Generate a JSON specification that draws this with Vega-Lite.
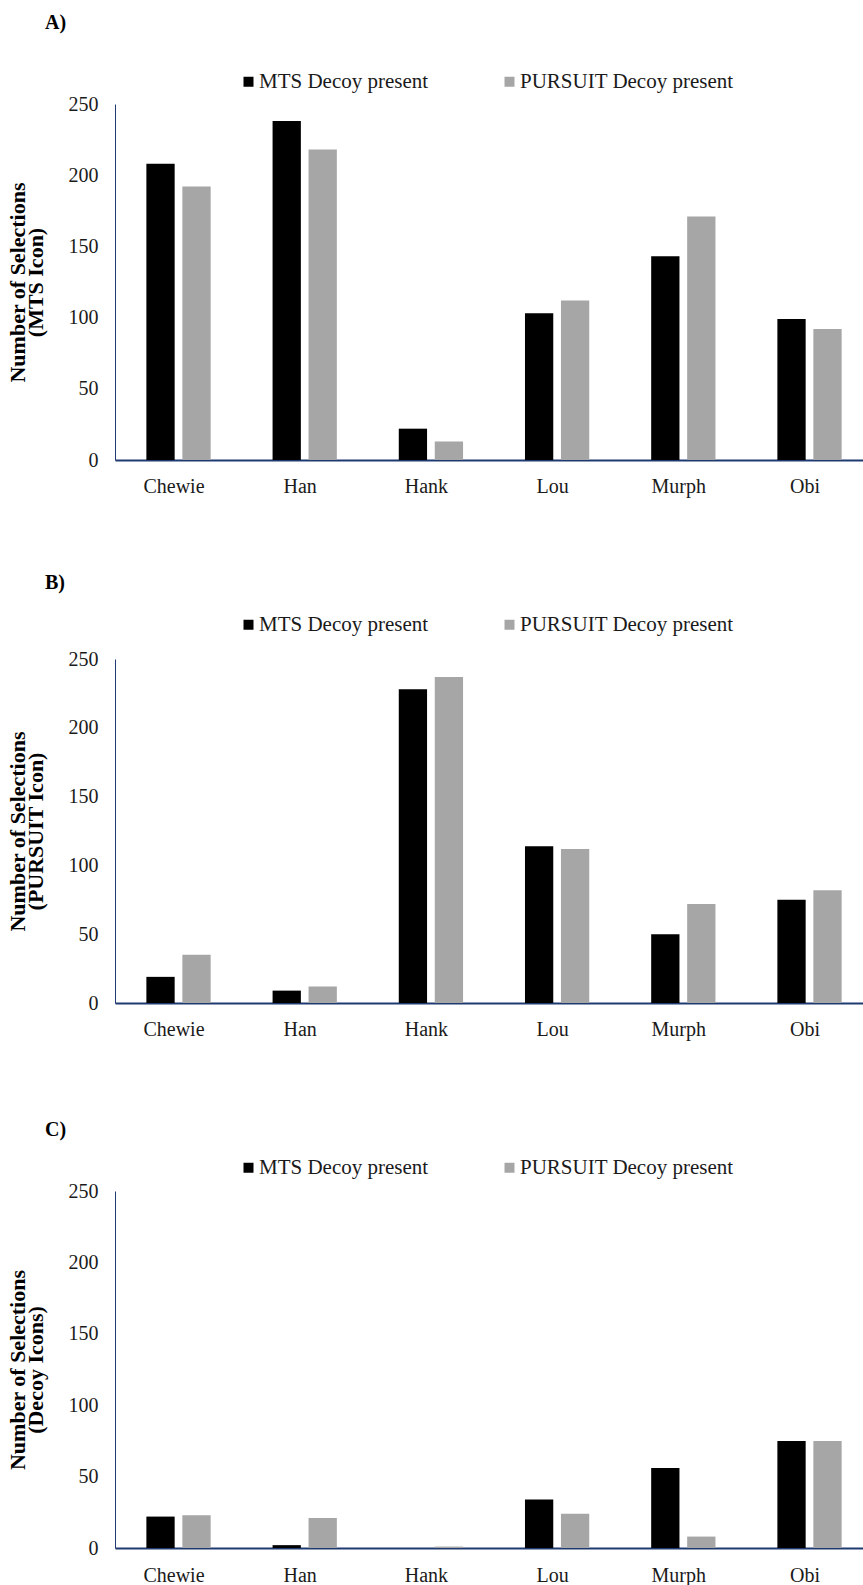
{
  "$schema": "https://vega.github.io/schema/vega-lite/v6.json",
  "padding": {"left": 6, "top": 13, "right": 0, "bottom": 0},
  "background": "white",
  "spacing": 77,
  "config": {
    "font": "Liberation Serif",
    "view": {"stroke": null},
    "axis": {"labelFont": "Liberation Serif", "titleFont": "Liberation Serif"},
    "legend": {"labelFont": "Liberation Serif"},
    "title": {"font": "Liberation Serif"}
  },
  "datasets": {
    "sel": [
      {"panel": "A", "name": "Chewie", "condition": "MTS Decoy present", "value": 208},
      {"panel": "A", "name": "Chewie", "condition": "PURSUIT Decoy present", "value": 192},
      {"panel": "A", "name": "Han", "condition": "MTS Decoy present", "value": 238},
      {"panel": "A", "name": "Han", "condition": "PURSUIT Decoy present", "value": 218},
      {"panel": "A", "name": "Hank", "condition": "MTS Decoy present", "value": 22},
      {"panel": "A", "name": "Hank", "condition": "PURSUIT Decoy present", "value": 13},
      {"panel": "A", "name": "Lou", "condition": "MTS Decoy present", "value": 103},
      {"panel": "A", "name": "Lou", "condition": "PURSUIT Decoy present", "value": 112},
      {"panel": "A", "name": "Murph", "condition": "MTS Decoy present", "value": 143},
      {"panel": "A", "name": "Murph", "condition": "PURSUIT Decoy present", "value": 171},
      {"panel": "A", "name": "Obi", "condition": "MTS Decoy present", "value": 99},
      {"panel": "A", "name": "Obi", "condition": "PURSUIT Decoy present", "value": 92},
      {"panel": "B", "name": "Chewie", "condition": "MTS Decoy present", "value": 19},
      {"panel": "B", "name": "Chewie", "condition": "PURSUIT Decoy present", "value": 35},
      {"panel": "B", "name": "Han", "condition": "MTS Decoy present", "value": 9},
      {"panel": "B", "name": "Han", "condition": "PURSUIT Decoy present", "value": 12},
      {"panel": "B", "name": "Hank", "condition": "MTS Decoy present", "value": 228},
      {"panel": "B", "name": "Hank", "condition": "PURSUIT Decoy present", "value": 237},
      {"panel": "B", "name": "Lou", "condition": "MTS Decoy present", "value": 114},
      {"panel": "B", "name": "Lou", "condition": "PURSUIT Decoy present", "value": 112},
      {"panel": "B", "name": "Murph", "condition": "MTS Decoy present", "value": 50},
      {"panel": "B", "name": "Murph", "condition": "PURSUIT Decoy present", "value": 72},
      {"panel": "B", "name": "Obi", "condition": "MTS Decoy present", "value": 75},
      {"panel": "B", "name": "Obi", "condition": "PURSUIT Decoy present", "value": 82},
      {"panel": "C", "name": "Chewie", "condition": "MTS Decoy present", "value": 22},
      {"panel": "C", "name": "Chewie", "condition": "PURSUIT Decoy present", "value": 23},
      {"panel": "C", "name": "Han", "condition": "MTS Decoy present", "value": 2},
      {"panel": "C", "name": "Han", "condition": "PURSUIT Decoy present", "value": 21},
      {"panel": "C", "name": "Hank", "condition": "MTS Decoy present", "value": 0},
      {"panel": "C", "name": "Hank", "condition": "PURSUIT Decoy present", "value": 1},
      {"panel": "C", "name": "Lou", "condition": "MTS Decoy present", "value": 34},
      {"panel": "C", "name": "Lou", "condition": "PURSUIT Decoy present", "value": 24},
      {"panel": "C", "name": "Murph", "condition": "MTS Decoy present", "value": 56},
      {"panel": "C", "name": "Murph", "condition": "PURSUIT Decoy present", "value": 8},
      {"panel": "C", "name": "Obi", "condition": "MTS Decoy present", "value": 75},
      {"panel": "C", "name": "Obi", "condition": "PURSUIT Decoy present", "value": 75}
    ]
  },
  "resolve": {"legend": {"color": "independent"}},
  "vconcat": [
    {
      "data": {"name": "sel"},
      "width": 749, "height": 356,
      "title": {"text": "A)", "anchor": "start", "frame": "group", "dx": -70, "offset": 38, "fontSize": 20, "fontWeight": "bold", "color": "black"},
      "transform": [{"filter": "datum.panel == 'A'"}],
      "mark": {"type": "bar"},
      "encoding": {
        "x": {"field": "name", "type": "nominal", "sort": ["Chewie", "Han", "Hank", "Lou", "Murph", "Obi"],
          "scale": {"paddingInner": 0.065, "paddingOuter": 0},
          "axis": {"title": null, "labelAngle": 0, "ticks": false, "tickSize": 0, "domainColor": "#1F3A70", "domainWidth": 2, "labelFontSize": 20, "labelPadding": 16, "labelColor": "#1a1a1a"}},
        "xOffset": {"field": "condition", "sort": ["MTS Decoy present", "PURSUIT Decoy present"], "scale": {"paddingInner": 0.214, "paddingOuter": 0.7465, "align": 0.584}},
        "y": {"field": "value", "type": "quantitative", "scale": {"domain": [0, 250]},
          "axis": {"title": ["Number of Selections", "(MTS Icon)"], "values": [0, 50, 100, 150, 200, 250], "grid": false, "ticks": false, "tickSize": 0, "domainColor": "#1F3A70", "domainWidth": 1, "labelFontSize": 20, "labelPadding": 17, "labelColor": "#1a1a1a", "titleFontSize": 22, "titleFontWeight": "bold", "titleLineHeight": 18, "titlePadding": 21, "titleColor": "black"}},
        "color": {"field": "condition", "type": "nominal", "scale": {"domain": ["MTS Decoy present", "PURSUIT Decoy present"], "range": ["#000000", "#A6A6A6"]},
          "legend": {"title": null, "orient": "none", "legendX": 123, "legendY": -33, "direction": "horizontal", "symbolType": "square", "symbolSize": 100, "symbolStrokeWidth": 0, "labelFontSize": 21, "labelOffset": 0, "columnPadding": 70, "labelLimit": 400, "labelColor": "#1a1a1a"}}
      }
    },
    {
      "spacing": 81,
      "resolve": {"legend": {"color": "independent"}},
      "vconcat": [
        {
          "data": {"name": "sel"},
          "width": 749, "height": 344,
          "title": {"text": "B)", "anchor": "start", "frame": "group", "dx": -70, "offset": 21, "fontSize": 20, "fontWeight": "bold", "color": "black"},
          "transform": [{"filter": "datum.panel == 'B'"}],
          "mark": {"type": "bar"},
          "encoding": {
            "x": {"field": "name", "type": "nominal", "sort": ["Chewie", "Han", "Hank", "Lou", "Murph", "Obi"],
              "scale": {"paddingInner": 0.065, "paddingOuter": 0},
              "axis": {"title": null, "labelAngle": 0, "ticks": false, "tickSize": 0, "domainColor": "#1F3A70", "domainWidth": 2, "labelFontSize": 20, "labelPadding": 16, "labelColor": "#1a1a1a"}},
            "xOffset": {"field": "condition", "sort": ["MTS Decoy present", "PURSUIT Decoy present"], "scale": {"paddingInner": 0.214, "paddingOuter": 0.7465, "align": 0.584}},
            "y": {"field": "value", "type": "quantitative", "scale": {"domain": [0, 250]},
              "axis": {"title": ["Number of Selections", "(PURSUIT Icon)"], "values": [0, 50, 100, 150, 200, 250], "grid": false, "ticks": false, "tickSize": 0, "domainColor": "#1F3A70", "domainWidth": 1, "labelFontSize": 20, "labelPadding": 17, "labelColor": "#1a1a1a", "titleFontSize": 22, "titleFontWeight": "bold", "titleLineHeight": 18, "titlePadding": 21, "titleColor": "black"}},
            "color": {"field": "condition", "type": "nominal", "scale": {"domain": ["MTS Decoy present", "PURSUIT Decoy present"], "range": ["#000000", "#A6A6A6"]},
              "legend": {"title": null, "orient": "none", "legendX": 123, "legendY": -45, "direction": "horizontal", "symbolType": "square", "symbolSize": 100, "symbolStrokeWidth": 0, "labelFontSize": 21, "labelOffset": 0, "columnPadding": 70, "labelLimit": 400, "labelColor": "#1a1a1a"}}
          }
        },
        {
          "data": {"name": "sel"},
          "width": 749, "height": 357,
          "title": {"text": "C)", "anchor": "start", "frame": "group", "dx": -70, "offset": 17, "fontSize": 20, "fontWeight": "bold", "color": "black"},
          "transform": [{"filter": "datum.panel == 'C'"}],
          "mark": {"type": "bar"},
          "encoding": {
            "x": {"field": "name", "type": "nominal", "sort": ["Chewie", "Han", "Hank", "Lou", "Murph", "Obi"],
              "scale": {"paddingInner": 0.065, "paddingOuter": 0},
              "axis": {"title": null, "labelAngle": 0, "ticks": false, "tickSize": 0, "domainColor": "#1F3A70", "domainWidth": 2, "labelFontSize": 20, "labelPadding": 17, "labelColor": "#1a1a1a"}},
            "xOffset": {"field": "condition", "sort": ["MTS Decoy present", "PURSUIT Decoy present"], "scale": {"paddingInner": 0.214, "paddingOuter": 0.7465, "align": 0.584}},
            "y": {"field": "value", "type": "quantitative", "scale": {"domain": [0, 250]},
              "axis": {"title": ["Number of Selections", "(Decoy Icons)"], "values": [0, 50, 100, 150, 200, 250], "grid": false, "ticks": false, "tickSize": 0, "domainColor": "#1F3A70", "domainWidth": 1, "labelFontSize": 20, "labelPadding": 17, "labelColor": "#1a1a1a", "titleFontSize": 22, "titleFontWeight": "bold", "titleLineHeight": 18, "titlePadding": 21, "titleColor": "black"}},
            "color": {"field": "condition", "type": "nominal", "scale": {"domain": ["MTS Decoy present", "PURSUIT Decoy present"], "range": ["#000000", "#A6A6A6"]},
              "legend": {"title": null, "orient": "none", "legendX": 123, "legendY": -34, "direction": "horizontal", "symbolType": "square", "symbolSize": 100, "symbolStrokeWidth": 0, "labelFontSize": 21, "labelOffset": 0, "columnPadding": 70, "labelLimit": 400, "labelColor": "#1a1a1a"}}
          }
        }
      ]
    }
  ]
}
